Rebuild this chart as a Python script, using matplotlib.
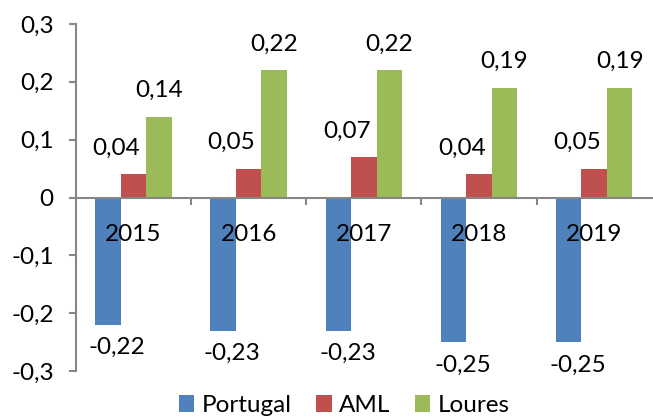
import numpy as np
import matplotlib
matplotlib.use("Agg")
import matplotlib.pyplot as plt

plt.rcParams['font.family'] = ['Lato', 'DejaVu Sans']

years = ["2015", "2016", "2017", "2018", "2019"]
portugal = [-0.22, -0.23, -0.23, -0.25, -0.25]
aml = [0.04, 0.05, 0.07, 0.04, 0.05]
loures = [0.14, 0.22, 0.22, 0.19, 0.19]
series_names = ["Portugal", "AML", "Loures"]
yticks = [-0.3, -0.2, -0.1, 0, 0.1, 0.2, 0.3]

colors = ["#4F81BD", "#C0504D", "#9BBB59"]
axis_col = "#868686"
fs = 17.5


def fmt(v):
    s = f"{v:.2f}".rstrip("0").rstrip(".") if v != 0 else "0"
    return s.replace(".", ",")


fig = plt.figure(figsize=(6.53, 4.17), dpi=100)
ax = fig.add_axes([76 / 653, 1 - 371 / 417, 1 - 76 / 653 - 0.002, (371 - 24) / 417])

x = np.arange(len(years))
w = 0.222
label_dx = [0.08, -0.15, 0.0]
for i, (vals, name) in enumerate(zip([portugal, aml, loures], series_names)):
    xs = x + (i - 1) * w
    ax.bar(xs, vals, width=w, color=colors[i], label=name, zorder=1)
    for xi, v in zip(xs, vals):
        if v >= 0:
            ax.annotate(f"{v:.2f}".replace(".", ","), (xi + label_dx[i], v),
                        xytext=(0, 11), textcoords="offset points",
                        ha="center", va="bottom", fontsize=fs)
        else:
            ax.annotate(f"{v:.2f}".replace(".", ","), (xi + label_dx[i], v),
                        xytext=(0, -9), textcoords="offset points",
                        ha="center", va="top", fontsize=fs)

ax.set_xlim(-0.5, len(years) - 0.5)
ax.set_ylim(-0.3, 0.3)
ax.set_yticks(yticks)
ax.set_yticklabels([fmt(v) for v in yticks])

ax.spines['top'].set_visible(False)
ax.spines['right'].set_visible(False)
ax.spines['bottom'].set_position(('data', 0))
for s in ['left', 'bottom']:
    ax.spines[s].set_color(axis_col)
    ax.spines[s].set_linewidth(1.5)

ax.set_xticks(x)
ax.set_xticklabels(years)
ax.set_xticks(np.arange(0.5, len(years) - 0.5, 1), minor=True)
ax.tick_params(axis='x', which='major', length=0, pad=19, labelsize=fs)
ax.tick_params(axis='x', which='minor', length=5, width=1.5, color=axis_col, direction='out')
ax.tick_params(axis='y', length=5, width=1.5, color=axis_col, pad=11, labelsize=fs)

fig.legend(loc='lower center', bbox_to_anchor=(0.527, -0.05), ncol=3, frameon=False,
           fontsize=fs, handlelength=0.65, handleheight=0.65, handletextpad=0.3,
           columnspacing=1.0)

fig.savefig("out.png", dpi=100)
